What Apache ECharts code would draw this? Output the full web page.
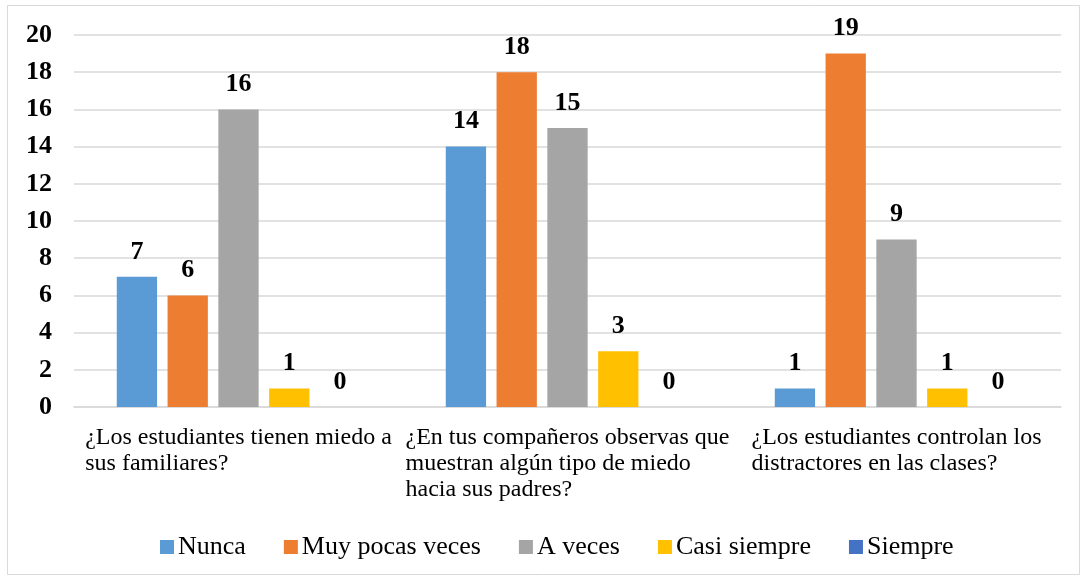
<!DOCTYPE html>
<html>
<head>
<meta charset="utf-8">
<script src="https://cdn.jsdelivr.net/npm/echarts@6/dist/echarts.min.js"></script>
<style>
  html, body { margin: 0; padding: 0; background: #fff; }
  #chart { width: 1086px; height: 579px; }
</style>
</head>
<body>
<div id="chart"></div>
<script>
  // preguntas (con saltos de línea como en el original)
  const categories = [
    '¿Los estudiantes tienen miedo a\nsus familiares?',
    '¿En tus compañeros observas que\nmuestran algún tipo de miedo\nhacia sus padres?',
    '¿Los estudiantes controlan los\ndistractores en las clases?'
  ];
  const seriesNames = ['Nunca', 'Muy pocas veces', 'A veces', 'Casi siempre', 'Siempre'];
  const nunca = [7, 14, 1];
  const muyPocas = [6, 18, 19];
  const aVeces = [16, 15, 9];
  const casiSiempre = [1, 3, 1];
  const siempre = [0, 0, 0];
  const yTicks = { min: 0, max: 20, interval: 2 };

  const colors = ['#5B9BD5', '#ED7D31', '#A5A5A5', '#FFC000', '#4472C4'];
  const font = "'Liberation Serif', 'Times New Roman', serif";
  const values = [nunca, muyPocas, aVeces, casiSiempre, siempre];

  const chart = echarts.init(document.getElementById('chart'));

  const option = {
    animation: false,
    color: colors,
    textStyle: { fontFamily: font },
    graphic: [{
      type: 'rect',
      shape: { x: 7.5, y: 5.5, width: 1072, height: 569 },
      style: { fill: 'none', stroke: '#d9d9d9', lineWidth: 1 },
      silent: true
    }],
    grid: { left: 74, right: 25, top: 35, bottom: 172 },
    legend: {
      top: 529,
      left: 155,
      icon: 'rect',
      itemWidth: 14,
      itemHeight: 14,
      itemGap: 38,
      textStyle: { fontFamily: font, fontSize: 26, color: '#000', padding: [0, 0, 0, -1] },
      data: seriesNames
    },
    xAxis: {
      type: 'category',
      data: categories,
      axisLine: { lineStyle: { color: '#d9d9d9', width: 1.5 } },
      axisTick: { show: false },
      axisLabel: {
        interval: 0,
        margin: 18,
        align: 'center',
        verticalAlign: 'top',
        formatter: v => v.split('\n').map(l => '{q|' + l + '}').join('\n'),
        rich: {
          q: { fontFamily: font, fontSize: 24, lineHeight: 26, color: '#000', align: 'left' }
        }
      }
    },
    yAxis: {
      type: 'value',
      min: yTicks.min,
      max: yTicks.max,
      interval: yTicks.interval,
      axisLine: { show: false },
      axisTick: { show: false },
      splitLine: { lineStyle: { color: '#d9d9d9', width: 1.5 } },
      axisLabel: { fontFamily: font, fontSize: 26, fontWeight: 'bold', color: '#000', margin: 22 }
    },
    series: seriesNames.map((name, i) => ({
      name: name,
      type: 'bar',
      data: values[i],
      barGap: '26%',
      barCategoryGap: '26%',
      label: {
        show: true,
        position: 'top',
        distance: 12,
        fontFamily: font,
        fontSize: 26,
        fontWeight: 'bold',
        color: '#000'
      }
    }))
  };

  chart.setOption(option);
</script>
</body>
</html>
